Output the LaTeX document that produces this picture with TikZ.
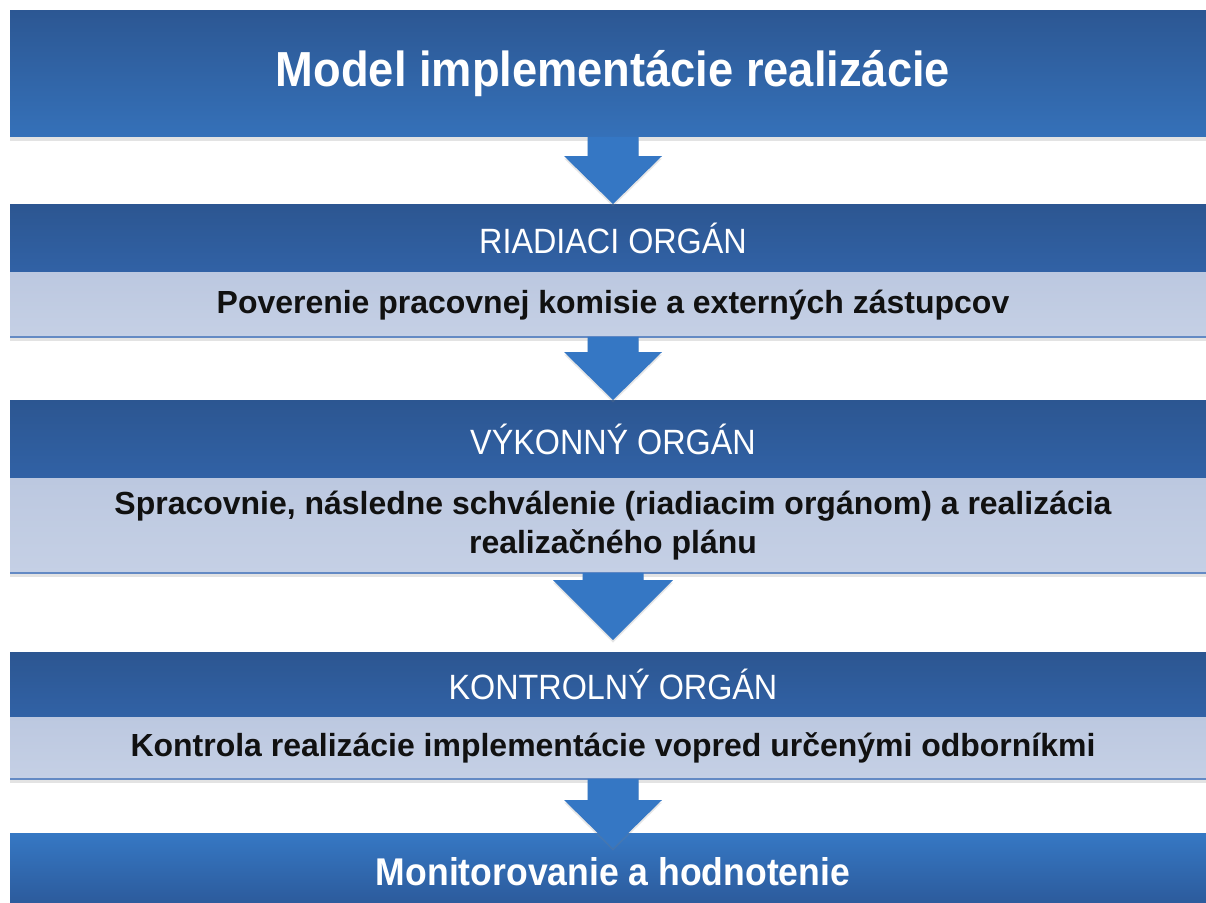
\documentclass[tikz,border=0pt]{standalone}
\usepackage{fontspec}
\setmainfont{Liberation Sans}
\newfontfamily\narrowsans[FakeStretch=0.92]{Liberation Sans}
\usetikzlibrary{positioning,shadows}
\definecolor{titletop}{RGB}{44, 87, 147}
\definecolor{titlebottom}{RGB}{53, 113, 185}
\definecolor{headtop}{RGB}{44, 86, 145}
\definecolor{headbottom}{RGB}{49, 98, 166}
\definecolor{lighttop}{RGB}{188, 200, 224}
\definecolor{lightbottom}{RGB}{197, 208, 229}
\definecolor{lasttop}{RGB}{54, 120, 196}
\definecolor{lastbottom}{RGB}{43, 88, 152}
\definecolor{arrowblue}{RGB}{53, 119, 196}
\definecolor{edgeblue}{RGB}{100, 138, 196}
\definecolor{textblack}{RGB}{17, 17, 17}

\tikzset{
  bar/.style={minimum width=24.12cm, inner sep=0pt, outer sep=0pt},
  barshadow/.style={drop shadow={shadow xshift=0pt, shadow yshift=-0.08cm, opacity=0.22}},
  titlebar/.style={bar, barshadow, minimum height=2.54cm, top color=titletop, bottom color=titlebottom,
    text=white, font=\narrowsans\bfseries\fontsize{28}{32}\selectfont},
  headbar/.style={bar, barshadow, top color=headtop, bottom color=headbottom,
    text=white, font=\narrowsans\fontsize{20}{24}\selectfont},
  bodybar/.style={bar, barshadow, top color=lighttop, bottom color=lightbottom,
    text=textblack, align=center, font=\bfseries\fontsize{18.2}{22.2}\selectfont},
  lastbar/.style={bar, minimum height=1.54cm, top color=lasttop, bottom color=lastbottom,
    text=white, font=\narrowsans\bfseries\fontsize{22}{26}\selectfont},
  arrowshape/.style={fill=arrowblue, drop shadow={shadow xshift=0pt, shadow yshift=-0.05cm, opacity=0.2}},
  edgeline/.style={draw=edgeblue, line width=0.6pt}
}

% block arrow: shaft top, tip, shaft half width, head half width, head length
\newcommand{\blockarrow}[5]{%
  \fill[arrowshape] ([xshift=-#3]#1) -- ([xshift=#3]#1)
    -- ([xshift=#3,yshift=#5]#2) -- ([xshift=#4,yshift=#5]#2)
    -- (#2) -- ([xshift=-#4,yshift=#5]#2)
    -- ([xshift=-#3,yshift=#5]#2) -- cycle;}

\begin{document}
\begin{tikzpicture}[x=0.02cm, y=-0.02cm]
  \clip (0,0) rectangle (1206,902);
  % Title
  \node[titlebar] (title) at (613,73.5) {Model implementácie realizácie};
  % Organs and their tasks
  \node[headbar, minimum height=1.38cm] (riadiaci) at (613,238.5) {RIADIACI ORGÁN};
  \node[bodybar, minimum height=1.28cm, below=0pt of riadiaci] (poverenie)
    {Poverenie pracovnej komisie a externých zástupcov};
  \node[headbar, minimum height=1.58cm] (vykonny) at (613,439.5) {VÝKONNÝ ORGÁN};
  \node[bodybar, minimum height=1.88cm, below=0pt of vykonny] (spracovanie)
    {Spracovnie, následne schválenie (riadiacim orgánom) a realizácia\\realizačného plánu};
  \node[headbar, minimum height=1.3cm] (kontrolny) at (613,684.5) {KONTROLNÝ ORGÁN};
  \node[bodybar, minimum height=1.24cm, below=0pt of kontrolny] (kontrola)
    {Kontrola realizácie implementácie vopred určenými odborníkmi};
  % Last step
  \node[lastbar] (monitorovanie) at (613,871.5) {Monitorovanie a hodnotenie};
  \foreach \b in {poverenie,spracovanie,kontrola}
    \draw[edgeline] (\b.south west) -- (\b.south east);
  % Arrows between the steps
  \coordinate (tip3) at ([yshift=0.24cm]kontrolny.north);
  \coordinate (tip4) at ([yshift=-0.3cm]monitorovanie.north);
  \foreach \from/\to/\shaft/\head/\len in {title.south/riadiaci.north/0.51cm/0.98cm/0.96cm,
      poverenie.south/vykonny.north/0.51cm/0.98cm/0.96cm,
      spracovanie.south/tip3/0.61cm/1.2cm/1.2cm,
      kontrola.south/tip4/0.51cm/0.98cm/0.96cm}
    \blockarrow{\from}{\to}{\shaft}{\head}{\len};
\end{tikzpicture}
\end{document}
